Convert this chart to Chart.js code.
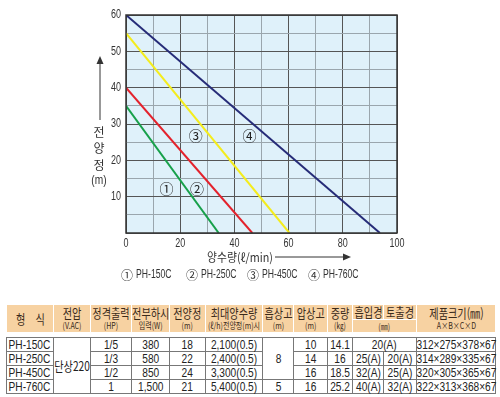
<!DOCTYPE html>
<html>
<head>
<meta charset="utf-8">
<script src="https://cdn.jsdelivr.net/npm/chart.js@4/dist/chart.umd.min.js"></script>
<style>
  body { margin: 0; background: #fff; width: 500px; height: 397px; position: relative; overflow: hidden; }
  #chart { position: absolute; left: 0; top: 0; }
  table { position: absolute; left: 6px; width: 489px; border-collapse: collapse; table-layout: fixed; }
  td { padding: 0; overflow: visible; white-space: nowrap; }
  .c { width: 150%; margin-left: -25%; transform: scaleX(0.78); text-align: center; }
  .c.l { margin-left: 0; transform-origin: left center; text-align: left; padding-left: 2px; }
  #head { top: 304px; }
  #head td { background: #f7d2a2; border: 1px solid #fff; color: #3a2a1a;
    font-family: "Noto Sans CJK KR", sans-serif; font-size: 13px; line-height: 14px; }
  #head .s { font-size: 9px; line-height: 11px; }
  #body { top: 337px; }
  #body td { border: 1px solid #777; color: #222; height: 13px;
    font-family: "Liberation Sans", sans-serif; font-size: 13px; line-height: 13px; }
  #body .k { font-family: "Noto Sans CJK KR", sans-serif; }
</style>
</head>
<body>
<canvas id="chart" width="500" height="292"></canvas>

<table id="head">
  <colgroup>
    <col style="width:47px"><col style="width:37px"><col style="width:41px"><col style="width:38px">
    <col style="width:36px"><col style="width:57px"><col style="width:31px"><col style="width:34px">
    <col style="width:25px"><col style="width:31px"><col style="width:33px"><col style="width:79px">
  </colgroup>
  <tr style="height:13px">
    <td rowspan="2"><div class="c">형　식</div></td>
    <td rowspan="2"><div class="c">전압</div><div class="c s">(V.AC)</div></td>
    <td rowspan="2"><div class="c">정격출력</div><div class="c s">(HP)</div></td>
    <td rowspan="2"><div class="c">전부하시</div><div class="c s">입력(W)</div></td>
    <td rowspan="2"><div class="c">전양정</div><div class="c s">(m)</div></td>
    <td rowspan="2"><div class="c">최대양수량</div><div class="c s">(ℓ/h)전양정(m)시</div></td>
    <td rowspan="2"><div class="c">흡상고</div><div class="c s">(m)</div></td>
    <td rowspan="2"><div class="c">압상고</div><div class="c s">(m)</div></td>
    <td rowspan="2"><div class="c">중량</div><div class="c s">(㎏)</div></td>
    <td><div class="c">흡입경</div></td>
    <td><div class="c">토출경</div></td>
    <td rowspan="2"><div class="c">제품크기(㎜)</div><div class="c s">A×B×C×D</div></td>
  </tr>
  <tr style="height:13px">
    <td colspan="2"><div class="c s">(㎜)</div></td>
  </tr>
</table>

<table id="body">
  <colgroup>
    <col style="width:47px"><col style="width:37px"><col style="width:41px"><col style="width:38px">
    <col style="width:36px"><col style="width:57px"><col style="width:31px"><col style="width:34px">
    <col style="width:25px"><col style="width:31px"><col style="width:33px"><col style="width:79px">
  </colgroup>
  <tbody id="rows"></tbody>
</table>

<script>
// curve data: shut-off head (m) and max flow at 0 m (l/min)
const models = ['PH-150C', 'PH-250C', 'PH-450C', 'PH-760C'];
const tags = ['①', '②', '③', '④'];
const shutoffHead = [35, 40, 55, 60];
const maxFlow = [34.2, 46.6, 60.3, 93.7];
const lineColors = ['#17a04a', '#e3222c', '#f4ec1c', '#262c78'];
// where the circled numbers sit, in axis units
const tagX = [14.9, 26.2, 25.7, 45.6];
const tagY = [12.2, 12.2, 26.9, 26.9];

const xTicks = [0, 20, 40, 60, 80, 100];
const yTicks = [10, 20, 30, 40, 50, 60];

// spec table
const power = ['1/5', '1/3', '1/2', '1'];
const inputW = ['380', '580', '850', '1,500'];
const totalHead = ['18', '22', '24', '21'];
const maxCap = ['2,100(0.5)', '2,400(0.5)', '3,300(0.5)', '5,400(0.5)'];
const dischHead = ['10', '14', '16', '16'];
const weight = ['14.1', '16', '18.5', '25.2'];
const suction = ['20(A)', '25(A)', '32(A)', '40(A)'];
const discharge = ['20(A)', '20(A)', '25(A)', '32(A)'];
const sizes = ['312×275×378×67', '314×289×335×67', '320×305×365×67', '322×313×368×67'];

// ---- table ----
const cell = (txt, attrs = '', cls = 'c') => `<td ${attrs}><div class="${cls}">${txt}</div></td>`;
const rowsEl = document.getElementById('rows');
models.forEach((m, i) => {
  let html = cell(m, '', 'c l');
  if (i === 0) html += cell('단상220', 'rowspan="4"', 'c k');
  html += cell(power[i]) + cell(inputW[i]) + cell(totalHead[i]) + cell(maxCap[i]);
  if (i === 0) html += cell('8', 'rowspan="3"');
  if (i === 3) html += cell('5');
  html += cell(dischHead[i]) + cell(weight[i]);
  if (i === 0) html += cell(suction[i], 'colspan="2"');
  else html += cell(suction[i]) + cell(discharge[i]);
  html += cell(sizes[i]);
  const tr = document.createElement('tr');
  tr.innerHTML = html;
  rowsEl.appendChild(tr);
});

// ---- chart ----
const datasets = models.map((m, i) => ({
  label: m,
  data: [{ x: 0, y: shutoffHead[i] }, { x: maxFlow[i], y: 0 }],
  borderColor: lineColors[i],
  borderWidth: 2,
  showLine: true,
  pointRadius: 0,
  fill: false,
}));

const sans = '"Liberation Sans", sans-serif';
const kr = '"Noto Sans CJK KR", sans-serif';

// narrow text: the original uses a condensed face
function narrowText(ctx, t, x, y, sx) {
  ctx.save();
  ctx.translate(x, y);
  ctx.scale(sx, 1);
  ctx.fillText(t, 0, 0);
  ctx.restore();
}

function arrowHead(ctx, x, y, dir) {
  ctx.beginPath();
  if (dir === 'up') {
    ctx.moveTo(x, y); ctx.lineTo(x - 3.5, y + 8); ctx.lineTo(x + 3.5, y + 8);
  } else {
    ctx.moveTo(x, y); ctx.lineTo(x - 8, y - 3.5); ctx.lineTo(x - 8, y + 3.5);
  }
  ctx.closePath();
  ctx.fill();
}

const decor = {
  id: 'decor',
  beforeDraw(chart) {
    const { ctx, chartArea: a } = chart;
    ctx.save();
    ctx.fillStyle = '#dff1fa';
    ctx.fillRect(a.left, a.top, a.right - a.left, a.bottom - a.top);
    ctx.restore();
  },
  afterDraw(chart) {
    const { ctx, chartArea: a, scales } = chart;
    ctx.save();
    // plot frame
    ctx.strokeStyle = '#333';
    ctx.lineWidth = 1.5;
    ctx.strokeRect(a.left, a.top, a.right - a.left, a.bottom - a.top);

    // tick labels
    ctx.fillStyle = '#333';
    ctx.font = '12px ' + sans;
    ctx.textBaseline = 'middle';
    ctx.textAlign = 'right';
    yTicks.forEach((v) => narrowText(ctx, String(v), 121, scales.y.getPixelForValue(v), 0.75));
    ctx.textAlign = 'center';
    xTicks.forEach((v) => narrowText(ctx, String(v), scales.x.getPixelForValue(v), 244, 0.75));

    // circled numbers on curves
    ctx.fillStyle = '#222';
    ctx.font = '14px ' + kr;
    tags.forEach((t, i) => {
      ctx.fillText(t, scales.x.getPixelForValue(tagX[i]), scales.y.getPixelForValue(tagY[i]));
    });

    // y title, stacked
    ctx.fillStyle = '#333';
    ctx.font = '12px ' + kr;
    ['전', '양', '정'].forEach((c, i) => ctx.fillText(c, 99, 132 + i * 16.5));
    ctx.font = '12px ' + sans;
    narrowText(ctx, '(m)', 99, 181, 0.85);
    ctx.strokeStyle = '#333';
    ctx.lineWidth = 1;
    ctx.beginPath(); ctx.moveTo(100, 120); ctx.lineTo(100, 62); ctx.stroke();
    arrowHead(ctx, 100, 56, 'up');

    // x title
    ctx.font = '12px ' + kr;
    narrowText(ctx, '양수량(ℓ/min)', 240, 257, 0.9);
    ctx.beginPath(); ctx.moveTo(275, 257); ctx.lineTo(344, 257); ctx.stroke();
    arrowHead(ctx, 351, 257, 'right');

    // legend
    ctx.textAlign = 'left';
    const lx = [121, 186, 247, 308];
    models.forEach((m, i) => {
      ctx.font = '12px ' + kr;
      ctx.fillText(tags[i], lx[i], 275);
      ctx.font = '12px ' + sans;
      narrowText(ctx, m, lx[i] + 15, 275, 0.72);
    });
    ctx.restore();
  },
};

new Chart(document.getElementById('chart'), {
  type: 'scatter',
  data: { datasets },
  options: {
    responsive: false,
    animation: false,
    devicePixelRatio: 1,
    layout: { padding: { top: 15, right: 103, left: 0, bottom: 0 } },
    plugins: { legend: { display: false }, tooltip: { enabled: false } },
    scales: {
      x: {
        type: 'linear',
        min: 0,
        max: 100,
        border: { display: false },
        grid: {
          drawTicks: false,
          color: (c) => (c.tick.value % 20 === 0 ? '#555' : '#9aa6ad'),
          lineWidth: 1,
        },
        ticks: { stepSize: 10, callback: () => '' },
        afterFit: (s) => { s.height = 292 - 233; },
      },
      y: {
        type: 'linear',
        min: 0,
        max: 60,
        border: { display: false },
        grid: {
          drawTicks: false,
          color: (c) => (c.tick.value % 10 === 0 ? '#555' : '#9aa6ad'),
          lineWidth: 1,
        },
        ticks: { stepSize: 5, callback: () => '' },
        afterFit: (s) => { s.width = 126; },
      },
    },
  },
  plugins: [decor],
});
</script>
</body>
</html>
